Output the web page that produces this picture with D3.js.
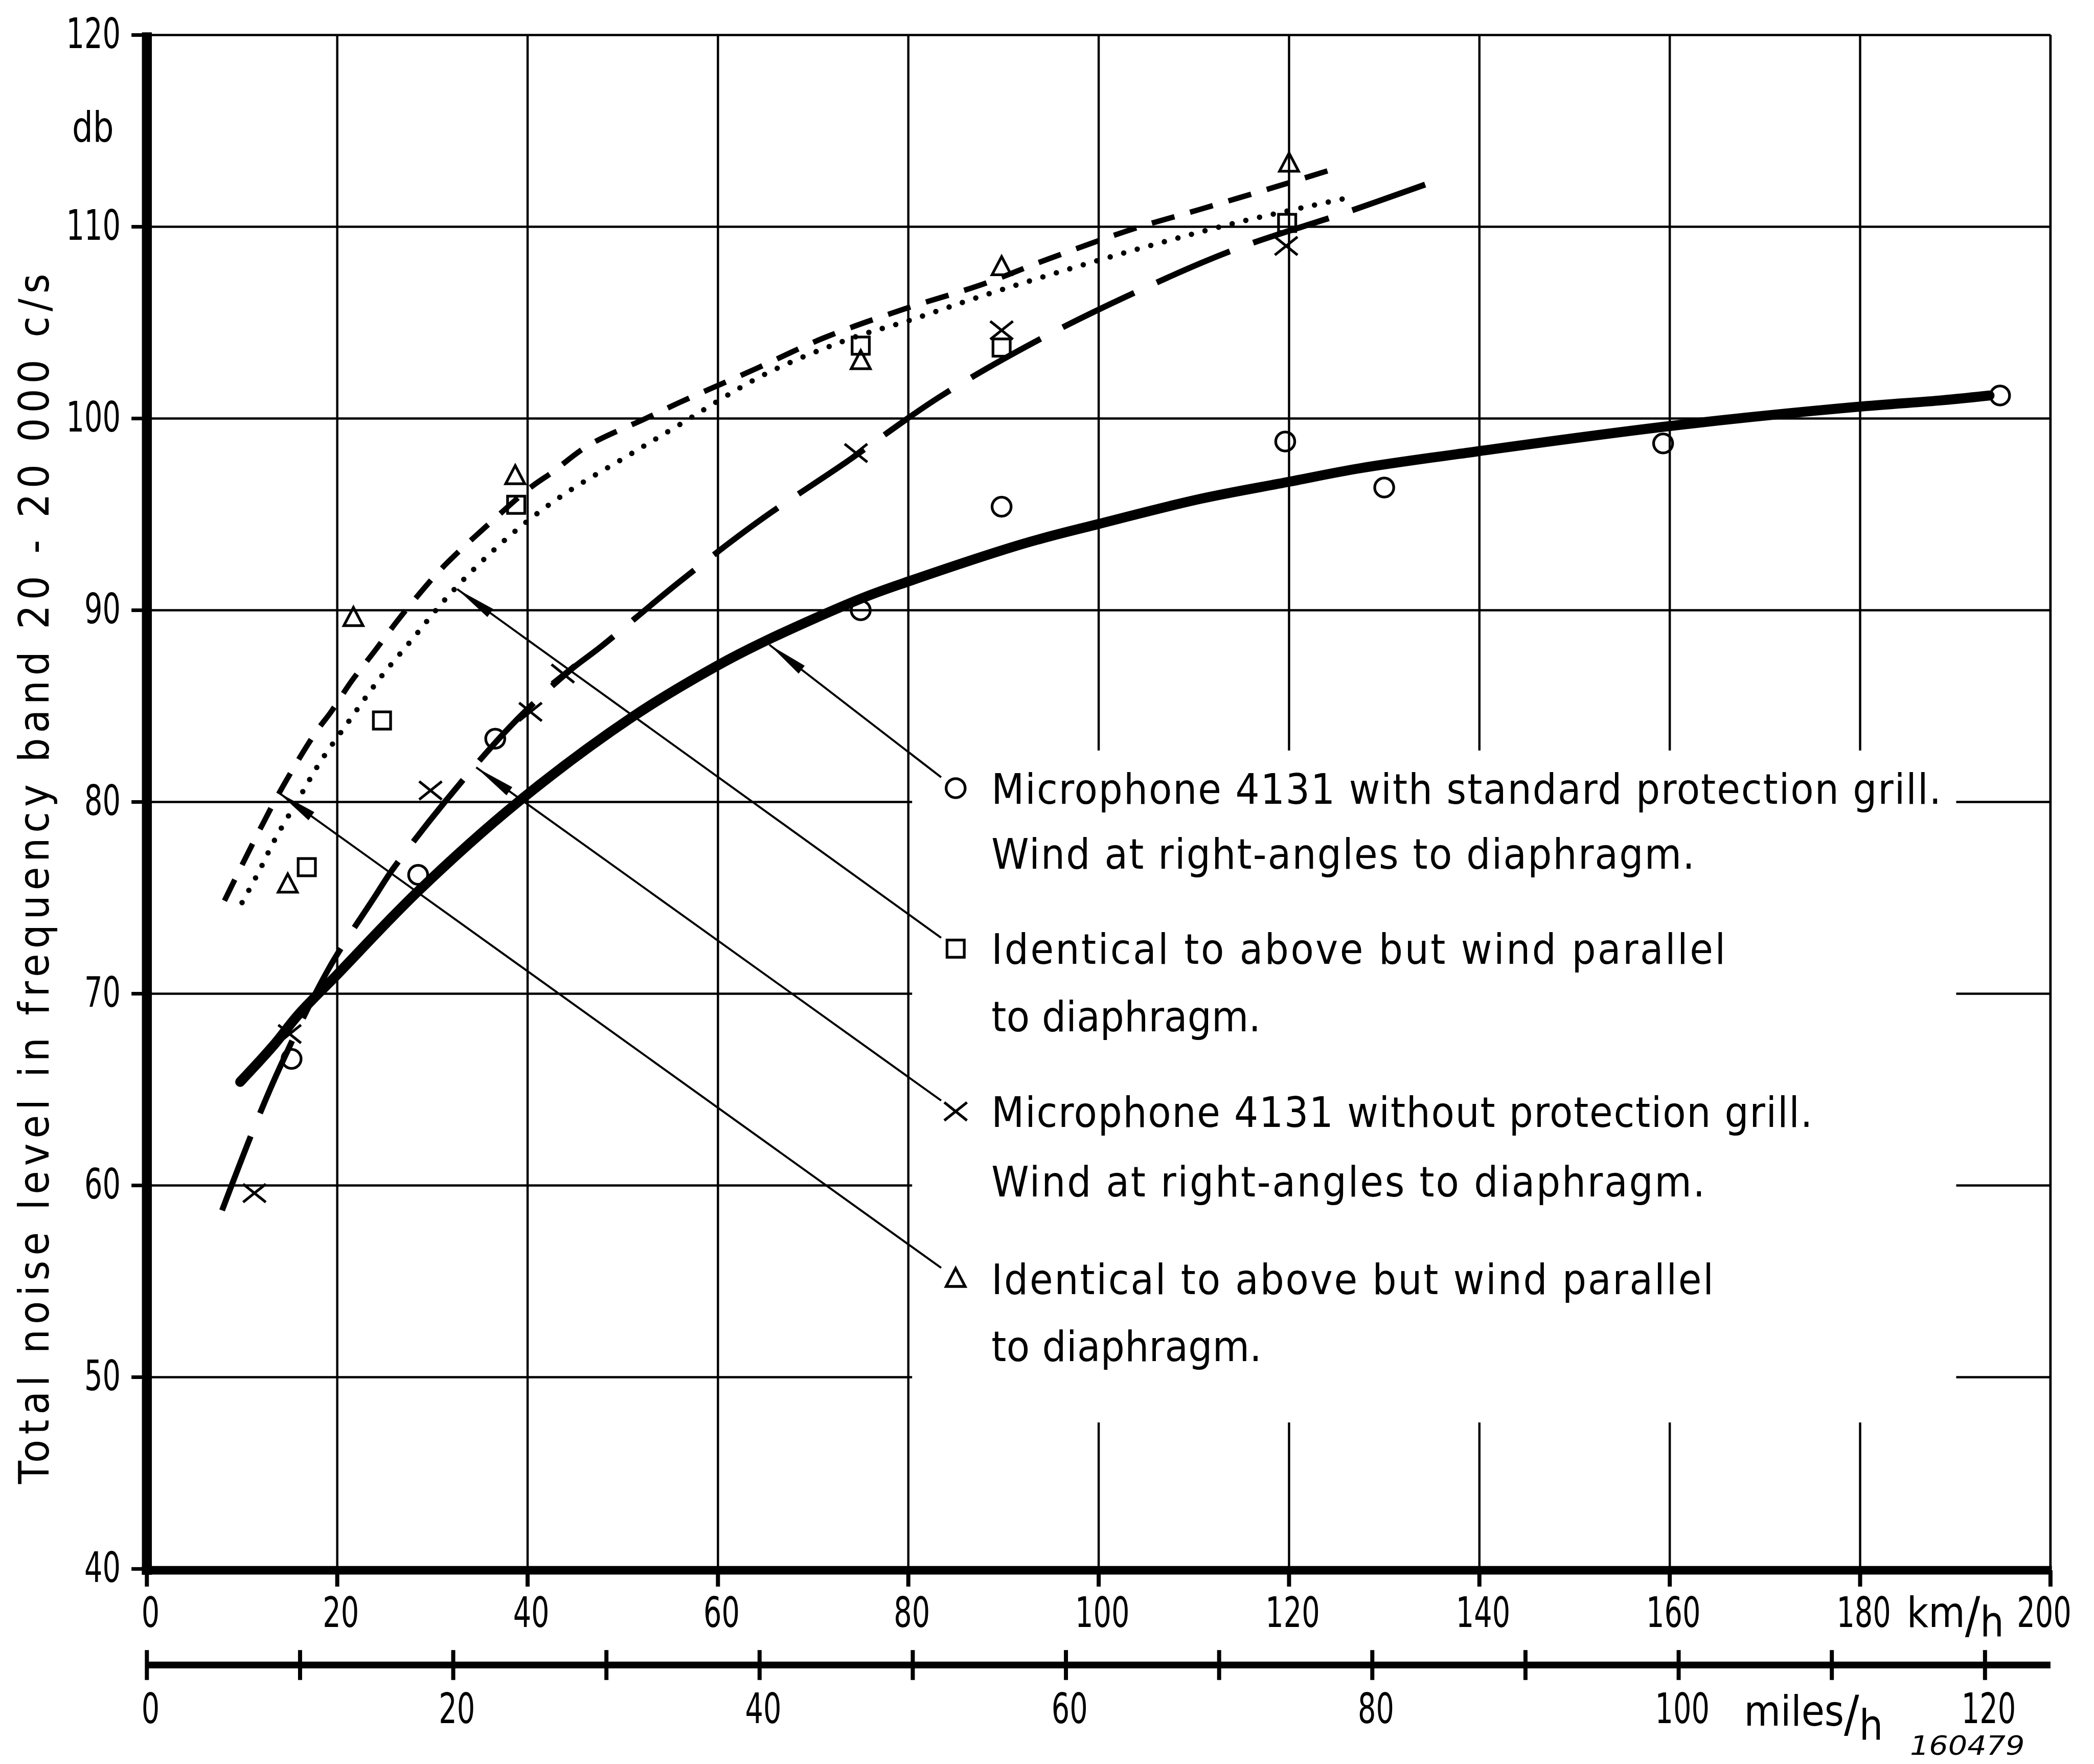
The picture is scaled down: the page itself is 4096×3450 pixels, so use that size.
<!DOCTYPE html>
<html>
<head>
<meta charset="utf-8">
<title>Wind noise of microphone 4131</title>
<script src="https://d3js.org/d3.v7.min.js"></script>
<style>
  body { margin: 0; background: #fff; }
  text { font-family: "Liberation Sans Narrow", "Arial Narrow", "DejaVu Sans Condensed", sans-serif; fill: #000; }
</style>
</head>
<body>
<svg id="chart" width="4096" height="3450" viewBox="0 0 4619 3890"></svg>
<script>
// ---- values (x = km/h, y = db) ----
var kmTicks = [0, 20, 40, 60, 80, 100, 120, 140, 160, 180, 200];
var dbTicks = [40, 50, 60, 70, 80, 90, 100, 110, 120];
var mileTicks = [0, 10, 20, 30, 40, 50, 60, 70, 80, 90, 100, 110, 120];
var mileLabels = [0, 20, 40, 60, 80, 100, 120];
var kmPerMile = 1.609344;

var circlePts = [[15.2, 66.6], [28.5, 76.2], [36.6, 83.3], [75, 90.0], [89.8, 95.4],
  [119.6, 98.8], [130, 96.4], [159.3, 98.7], [194.7, 101.2]];
var crossPts = [[11.3, 59.6], [15, 67.9], [29.8, 80.6], [40.3, 84.7], [43.7, 86.7],
  [74.5, 98.2], [89.8, 104.6], [119.7, 109.0]];
var squarePts = [[16.8, 76.6], [24.7, 84.25], [38.8, 95.5], [75, 103.8], [89.8, 103.7], [119.8, 110.2]];
var trianglePts = [[14.8, 75.7], [21.7, 89.6], [38.7, 97.0], [75, 103.0], [89.8, 107.9], [120, 113.3]];

// fitted curves as drawn in the reference
var solidCurve = [[9.8, 65.4], [13.3, 67.3], [15.9, 68.9], [20, 71.0], [28.4, 75.3], [39, 80.0],
  [50.9, 84.4], [59.9, 87.1], [65, 88.4], [75, 90.6], [80, 91.5], [92.3, 93.5], [100, 94.5],
  [110.6, 95.8], [120, 96.7], [127.4, 97.4], [140, 98.3], [159.9, 99.6], [179.5, 100.6],
  [188.6, 100.95], [193.6, 101.2]];
var longDashCurve = [[7.9, 58.7], [11.5, 63.3], [14.1, 66.3], [19.1, 71.3], [24, 75.1], [25.7, 76.4],
  [31.3, 80.0], [38.3, 84.0], [44.3, 86.8], [47.7, 88.1], [56, 91.5], [64.3, 94.65], [73.4, 97.7],
  [83.2, 101.1], [93.5, 104.05], [103.5, 106.5], [114.2, 108.8], [125.7, 110.7], [134.3, 112.2]];
var dottedCurve = [[10, 74.75], [11.8, 76.4], [13.4, 78], [16.1, 80.3], [18.1, 82.0], [21.2, 84.2],
  [24.4, 86.4], [27.9, 88.5], [31.4, 90.6], [35.3, 92.6], [39.6, 94.5], [44.3, 96.2], [50, 97.9],
  [55.7, 99.6], [64.9, 102.3], [74.1, 104.2], [80, 105.1], [87.8, 106.4], [96.9, 107.8],
  [106, 109.1], [115.2, 110.3], [126.1, 111.5]];
var shortDashCurve = [[8.15, 74.85], [13.6, 80.2], [17.7, 83.6], [19.35, 84.7], [21.5, 86.3],
  [23.9, 87.85], [26.4, 89.5], [28.7, 90.9], [31.4, 92.4], [36.6, 94.8], [40.3, 96.4], [42.6, 97.2],
  [46.4, 98.6], [52.4, 100], [55.8, 100.8], [64, 102.6], [71.1, 104.2], [79.5, 105.7], [87.8, 107.0],
  [94.6, 108.3], [103.7, 109.9], [110.6, 110.9], [119.7, 112.25], [124.6, 113.0]];

var legendText = [
  ["Microphone 4131 with standard protection grill.", "Wind at right-angles to diaphragm."],
  ["Identical to above but wind parallel", "to diaphragm."],
  ["Microphone 4131 without protection grill.", "Wind at right-angles to diaphragm."],
  ["Identical to above but wind parallel", "to diaphragm."]
];
var legendSymbols = ["circle", "square", "cross", "triangle"];
// point on each curve that the legend leader line touches
var leaderTips = [[65.4, 88.2], [32.6, 91.1], [34.6, 81.8], [13.8, 80.5]];

// ---- layout ----
var svg = d3.select("#chart");
var x = d3.scaleLinear().domain([0, 200]).range([324, 4523]);
var y = d3.scaleLinear().domain([40, 120]).range([3460, 77]);
var xMiles = d3.scaleLinear().domain([0, 200 / kmPerMile]).range([324, 4523]);
var kmAxisY = 3463, milesAxisY = 3672;
var digitW = 40;

var g = svg.append("g");

// grid
g.selectAll(".vgrid")
  .data(kmTicks.slice(1))
  .enter().append("line")
  .attr("x1", function(d) { return x(d); })
  .attr("x2", function(d) { return x(d); })
  .attr("y1", y(120))
  .attr("y2", y(40))
  .attr("stroke", "#000")
  .attr("stroke-width", 5);

g.selectAll(".hgrid")
  .data(dbTicks.slice(1))
  .enter().append("line")
  .attr("x1", x(0))
  .attr("x2", x(200))
  .attr("y1", function(d) { return y(d); })
  .attr("y2", function(d) { return y(d); })
  .attr("stroke", "#000")
  .attr("stroke-width", 5);

// white field behind the legend
g.append("rect")
  .attr("x", 2012).attr("y", 1655)
  .attr("width", 2303).attr("height", 1482)
  .attr("fill", "#fff");

// right border
g.append("line")
  .attr("x1", x(200)).attr("x2", x(200))
  .attr("y1", y(120)).attr("y2", y(40))
  .attr("stroke", "#000").attr("stroke-width", 5);

// thick axes
g.append("line")
  .attr("x1", x(0)).attr("x2", x(0))
  .attr("y1", y(120) - 6).attr("y2", kmAxisY + 10)
  .attr("stroke", "#000").attr("stroke-width", 22);
g.append("line")
  .attr("x1", x(0) - 11).attr("x2", x(200) + 3)
  .attr("y1", kmAxisY).attr("y2", kmAxisY)
  .attr("stroke", "#000").attr("stroke-width", 19);

// y ticks and labels
g.selectAll(".ytick")
  .data(dbTicks)
  .enter().append("line")
  .attr("x1", 290).attr("x2", x(0))
  .attr("y1", function(d) { return y(d); })
  .attr("y2", function(d) { return y(d); })
  .attr("stroke", "#000").attr("stroke-width", 8);

g.selectAll(".ylabel")
  .data(dbTicks)
  .enter().append("text")
  .attr("x", 266)
  .attr("y", function(d) { return y(d) + 29; })
  .attr("text-anchor", "end")
  .attr("font-size", 92)
  .attr("textLength", function(d) { return String(d).length * digitW; })
  .attr("lengthAdjust", "spacingAndGlyphs")
  .text(function(d) { return d; });

g.append("text")
  .attr("x", 251).attr("y", 312)
  .attr("text-anchor", "end")
  .attr("font-size", 92)
  .attr("textLength", 92)
  .attr("lengthAdjust", "spacingAndGlyphs")
  .text("db");

g.append("text")
  .attr("transform", "translate(107,1938) rotate(-90)")
  .attr("text-anchor", "middle")
  .attr("font-size", 93)
  .attr("textLength", 2669)
  .attr("lengthAdjust", "spacing")
  .text("Total noise level in frequency band 20 - 20 000 c/s");

// km/h ticks + labels
g.selectAll(".xtick")
  .data(kmTicks)
  .enter().append("line")
  .attr("x1", function(d) { return x(d); })
  .attr("x2", function(d) { return x(d); })
  .attr("y1", kmAxisY).attr("y2", kmAxisY + 36)
  .attr("stroke", "#000").attr("stroke-width", 9);

g.selectAll(".xlabel")
  .data(kmTicks)
  .enter().append("text")
  .attr("x", function(d) { return d == 200 ? x(d) - 14 : x(d) + 8; })
  .attr("y", 3588)
  .attr("text-anchor", "middle")
  .attr("font-size", 92)
  .attr("textLength", function(d) { return String(d).length * digitW; })
  .attr("lengthAdjust", "spacingAndGlyphs")
  .text(function(d) { return d; });

var kmUnit = g.append("text").attr("x", 4206).attr("y", 3588).attr("font-size", 92);
kmUnit.append("tspan").text("km");
kmUnit.append("tspan").attr("font-size", 110).attr("dy", 12).text("/");
kmUnit.append("tspan").attr("dy", 8).text("h");

// miles/h axis
g.append("line")
  .attr("x1", xMiles(0)).attr("x2", x(200))
  .attr("y1", milesAxisY).attr("y2", milesAxisY)
  .attr("stroke", "#000").attr("stroke-width", 15);

g.selectAll(".mtick")
  .data(mileTicks)
  .enter().append("line")
  .attr("x1", function(d) { return xMiles(d); })
  .attr("x2", function(d) { return xMiles(d); })
  .attr("y1", milesAxisY - 33).attr("y2", milesAxisY + 33)
  .attr("stroke", "#000").attr("stroke-width", 9);

g.selectAll(".mlabel")
  .data(mileLabels)
  .enter().append("text")
  .attr("x", function(d) { return xMiles(d) + 8; })
  .attr("y", 3800)
  .attr("text-anchor", "middle")
  .attr("font-size", 92)
  .attr("textLength", function(d) { return String(d).length * digitW; })
  .attr("lengthAdjust", "spacingAndGlyphs")
  .text(function(d) { return d; });

var miUnit = g.append("text").attr("x", 3847).attr("y", 3806).attr("font-size", 92);
miUnit.append("tspan").text("miles");
miUnit.append("tspan").attr("font-size", 110).attr("dy", 12).text("/");
miUnit.append("tspan").attr("dy", 18).text("h");

g.append("text")
  .attr("x", 4213).attr("y", 3870)
  .attr("font-size", 58)
  .attr("font-style", "italic")
  .attr("textLength", 253)
  .attr("lengthAdjust", "spacingAndGlyphs")
  .text("160479");

// ---- curves ----
var line = d3.line()
  .x(function(d) { return x(d[0]); })
  .y(function(d) { return y(d[1]); })
  .curve(d3.curveCatmullRom.alpha(0.5));

var curves = [
  { data: solidCurve, width: 22, dash: null, cap: "round" },
  { data: longDashCurve, width: 13, dash: "175 55", cap: "butt" },
  { data: dottedCurve, width: 12, dash: "0 31", cap: "round" },
  { data: shortDashCurve, width: 12, dash: "52 36", cap: "butt" }
];

g.selectAll(".curve")
  .data(curves)
  .enter().append("path")
  .attr("d", function(d) { return line(d.data); })
  .attr("fill", "none")
  .attr("stroke", "#000")
  .attr("stroke-width", function(d) { return d.width; })
  .attr("stroke-linecap", function(d) { return d.cap; })
  .attr("stroke-dasharray", function(d) { return d.dash; });

// ---- markers ----
function marker(sel, type) {
  sel.each(function(p) {
    var m = d3.select(this);
    if (type == "circle") {
      m.append("circle").attr("r", 21);
    } else if (type == "square") {
      m.append("rect").attr("x", -19).attr("y", -19).attr("width", 38).attr("height", 38);
    } else if (type == "triangle") {
      m.append("path").attr("d", "M0,-23L21,17L-21,17Z");
    } else {
      m.append("path").attr("d", "M-25,-20L25,20M-25,20L25,-20");
    }
  });
  sel.selectAll("*")
    .attr("fill", "none")
    .attr("stroke", "#000")
    .attr("stroke-width", 6);
}

var series = [
  { pts: circlePts, type: "circle" },
  { pts: crossPts, type: "cross" },
  { pts: squarePts, type: "square" },
  { pts: trianglePts, type: "triangle" }
];

series.forEach(function(s) {
  var sel = g.selectAll(".pt-" + s.type)
    .data(s.pts)
    .enter().append("g")
    .attr("transform", function(d) { return "translate(" + x(d[0]) + "," + y(d[1]) + ")"; });
  marker(sel, s.type);
});

// ---- legend ----
var legendX = 2187, markerX = 2108;
var legendBase = [[1772, 1916], [2126, 2274], [2485, 2638], [2854, 3002]];
var legendWidths = [[2095, 1551], [1619, 594], [1811, 1574], [1593, 596]];

legendText.forEach(function(rows, i) {
  rows.forEach(function(t, j) {
    g.append("text")
      .attr("x", legendX)
      .attr("y", legendBase[i][j])
      .attr("font-size", 93)
      .attr("textLength", legendWidths[i][j])
      .attr("lengthAdjust", "spacing")
      .text(t);
  });

  var my = legendBase[i][0] - 34;
  var lm = g.append("g").datum([0, 0]).attr("transform", "translate(" + markerX + "," + my + ")");
  marker(lm, legendSymbols[i]);

  // leader line from curve to the legend symbol, with a long arrow head at the curve
  var tx = x(leaderTips[i][0]), ty = y(leaderTips[i][1]);
  var ex = markerX - 32, ey = my - 24;
  var len = Math.sqrt((ex - tx) * (ex - tx) + (ey - ty) * (ey - ty));
  var ux = (ex - tx) / len, uy = (ey - ty) / len;
  var hl = 90, hw = 11;
  g.append("line")
    .attr("x1", tx).attr("y1", ty)
    .attr("x2", ex).attr("y2", ey)
    .attr("stroke", "#000").attr("stroke-width", 4.5);
  g.append("path")
    .attr("d", "M" + tx + "," + ty +
      "L" + (tx + ux * hl - uy * hw) + "," + (ty + uy * hl + ux * hw) +
      "L" + (tx + ux * hl + uy * hw) + "," + (ty + uy * hl - ux * hw) + "Z")
    .attr("fill", "#000");
});
</script>
</body>
</html>
